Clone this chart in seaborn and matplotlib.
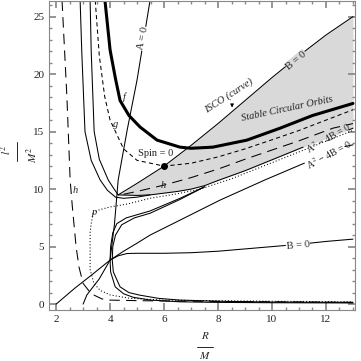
import numpy as np
import pandas as pd
import matplotlib
matplotlib.use("Agg")
import matplotlib.pyplot as plt
import seaborn as sns

sns.set_theme(style="white")
plt.rcParams['font.family'] = ['Liberation Serif', 'DejaVu Serif']
plt.rcParams['mathtext.fontset'] = 'stix'

# ---- data (R/M, l^2/M^2) ----
thick_R = [3.81, 4.0, 4.2, 4.37, 4.7, 5.11, 5.74, 6.59, 7.0, 7.81, 9.07, 10.3, 11.5, 13.0]
thick_L = [26.4, 22.1, 19.6, 17.7, 16.4, 15.4, 14.26, 13.65, 13.55, 13.65, 14.26, 15.3, 16.4, 17.45]

schw_R = [3.45, 3.6, 3.8, 4.0, 4.5, 5.0, 6.0, 7.0, 8.0, 9.0, 10.0, 11.0, 12.0, 13.0]
schw_L = [26.4, 21.6, 18.05, 16.0, 13.5, 12.5, 12.0, 12.25, 12.8, 13.5, 14.29, 15.1, 16.0, 16.9]

bup_R = [4.3, 5.0, 6.0, 7.0, 8.0, 9.0, 10.0, 11.0, 12.0, 13.0]
bup_L = [9.5, 10.5, 12.0, 13.8, 15.7, 17.7, 19.7, 21.6, 23.4, 25.0]

alow_R = [4.3, 5.0, 5.5, 6.0, 6.5, 7.0, 7.5, 8.0, 9.0, 10.0, 11.15, 12.85, 13.0]
alow_L = [9.5, 9.45, 9.5, 9.65, 9.8, 10.0, 10.3, 10.75, 11.6, 12.55, 13.65, 15.15, 15.3]

beta_R = [2.0, 2.7, 3.3, 4.0, 4.5, 5.0, 5.48, 6.59, 8.07, 9.74, 11.2, 12.7, 13.0]
beta_L = [0.0, 1.4, 2.5, 3.83, 4.6, 5.3, 6.0, 7.3, 9.04, 10.8, 12.26, 13.7, 13.85]

u1_R = [2.89, 2.95, 3.07, 3.3, 3.63, 3.9, 4.2, 4.5, 5.0, 5.48]
u1_L = [26.4, 22.0, 15.0, 12.5, 10.8, 9.9, 9.3, 9.2, 9.3, 9.5]
u2_R = [3.26, 3.3, 3.41, 3.6, 3.93, 4.15, 4.3]
u2_L = [26.4, 22.0, 15.0, 12.6, 10.8, 10.0, 9.5]

c1_R = [13.0, 10.0, 8.0, 6.59, 5.5, 4.85, 4.5, 4.19, 4.02, 4.0, 4.02, 4.1, 4.25, 4.6, 5.48, 6.59, 7.5]
c1_L = [0.1, 0.12, 0.15, 0.2, 0.35, 0.6, 0.9, 1.5, 2.8, 3.83, 5.0, 6.2, 7.0, 7.5, 8.1, 9.2, 10.2]
c2_R = [13.0, 10.0, 8.0, 6.59, 5.8, 5.1, 4.7, 4.37, 4.12, 4.08, 4.1, 4.2, 4.43, 4.9, 5.48, 6.59, 7.5]
c2_L = [0.15, 0.18, 0.25, 0.35, 0.5, 0.78, 1.0, 1.5, 2.8, 3.83, 5.0, 6.0, 6.9, 7.5, 7.9, 9.1, 10.2]

b0_R = [4.0, 4.3, 4.63, 5.0, 6.0, 7.0, 8.0, 9.0, 10.0, 11.0, 12.0, 13.0]
b0_L = [3.83, 4.2, 4.4, 4.42, 4.42, 4.47, 4.6, 4.8, 5.0, 5.2, 5.45, 5.65]

a0_R = [3.0, 3.14, 3.6, 4.0, 4.08, 4.16, 4.3, 4.63, 5.0, 5.48]
a0_L = [0.0, 0.8, 2.2, 3.83, 5.4, 6.9, 10.8, 15.1, 19.5, 26.4]

hl_R = [2.22, 2.4, 2.52, 2.6, 2.74, 2.85, 3.0, 3.3, 3.7, 4.0, 5.0, 7.0, 10.0, 13.0]
hl_L = [26.4, 18.0, 10.8, 8.5, 5.0, 3.2, 1.8, 0.9, 0.45, 0.35, 0.3, 0.25, 0.2, 0.15]
hr_R = [4.5, 5.0, 6.0, 7.0, 8.07, 9.0, 10.0, 11.0, 12.26, 13.0]
hr_L = [9.55, 9.8, 10.35, 11.0, 11.8, 12.6, 13.4, 14.2, 15.3, 15.7]

p_R = [3.37, 3.3, 3.26, 3.26, 3.4, 3.63, 4.0, 4.74, 6.0, 8.0, 10.0, 13.0]
p_L = [7.9, 7.0, 6.2, 3.0, 1.8, 1.2, 0.8, 0.5, 0.35, 0.3, 0.25, 0.2]
pu_R = [3.37, 3.6, 4.0, 4.63, 5.48, 6.5, 7.33, 8.5, 10.0, 11.5, 13.0]
pu_L = [7.9, 8.2, 8.45, 8.7, 9.2, 9.6, 10.0, 10.9, 12.3, 13.7, 15.1]

fig = plt.figure(figsize=(3.61, 3.61), dpi=100)
ax = fig.add_axes([0.136, 0.141, 0.847, 0.856])

def line(R, L, **kw):
    df = pd.DataFrame({"R": R, "L": L})
    sns.lineplot(data=df, x="R", y="L", sort=False, estimator=None, ax=ax, **kw)

# shaded stable-orbit region
ax.fill_between(bup_R, bup_L, np.interp(bup_R, alow_R, alow_L), color="#d9d9d9", lw=0, zorder=0)

k = "black"
thin = 0.75
line(thick_R, thick_L, color=k, lw=2.2)
line(schw_R, schw_L, color=k, lw=thin, linestyle=(0, (4, 3)))
line(bup_R, bup_L, color=k, lw=thin)
line(alow_R[:11], alow_L[:11], color=k, lw=thin)
line(alow_R[11:], alow_L[11:], color=k, lw=thin)
line(beta_R[:11], beta_L[:11], color=k, lw=thin)
line(beta_R[11:], beta_L[11:], color=k, lw=thin)
line(u1_R, u1_L, color=k, lw=thin)
line(u2_R, u2_L, color=k, lw=thin)
line(c1_R, c1_L, color=k, lw=thin)
line(c2_R, c2_L, color=k, lw=thin)
line(b0_R, b0_L, color=k, lw=thin)
line(a0_R, a0_L, color=k, lw=thin)
line(hl_R, hl_L, color=k, lw=thin, linestyle=(0, (10, 6)))
line(hr_R, hr_L, color=k, lw=thin, linestyle=(0, (10, 6)))
line(p_R, p_L, color=k, lw=thin, linestyle=(0, (1, 2)))
line(pu_R, pu_L, color=k, lw=thin, linestyle=(0, (1, 2)))

ax.plot([6.0], [12.0], "o", color=k, ms=4)

ax.set_xlim(1.74, 13.07)
ax.set_ylim(-0.52, 26.35)
ax.set_xlabel("")
ax.set_ylabel("")
ax.set_xticks([2, 4, 6, 8, 10, 12])
ax.set_yticks([0, 5, 10, 15, 20, 25])
ax.set_xticks(np.arange(2, 13.1, 0.5), minor=True)
ax.set_yticks(np.arange(0, 26.1, 1), minor=True)
ax.tick_params(which="both", direction="in", top=True, right=True, bottom=True, left=True,
               color="#888888", labelsize=8, labelcolor="#222222")
ax.tick_params(which="major", length=5)
ax.tick_params(which="minor", length=2.5)
for s in ax.spines.values():
    s.set_color("#888888")
    s.set_linewidth(0.8)

tk = dict(fontsize=7.5, color="#222222")
ax.text(5.7, 13.1, "Spin = 0", ha="center", va="center", **tk)
ax.text(4.52, 18.0, "f", ha="center", va="center", style="italic", **tk)
ax.text(4.19, 15.6, "g", ha="center", va="center", style="italic", **tk)
ax.text(2.7, 9.9, "h", ha="center", va="center", style="italic", **tk)
ax.text(5.98, 10.3, "h", ha="center", va="center", style="italic", **tk)
ax.text(3.4, 8.0, "p", ha="center", va="center", style="italic", **tk)
ax.text(8.4, 18.1, "ISCO (curve)", ha="center", va="center", style="italic", rotation=33, **tk)
ax.annotate("", xy=(8.52, 16.85), xytext=(8.52, 17.6),
            arrowprops=dict(arrowstyle="-|>", lw=0.6, color=k, mutation_scale=5))
ax.text(10.55, 17.0, "Stable Circular Orbits", ha="center", va="center", style="italic", rotation=12, **tk)
bb = dict(boxstyle="square,pad=0.05", fc="white", ec="none")
ax.text(10.9, 21.2, "B = 0", ha="center", va="center", rotation=40,
        bbox=dict(boxstyle="square,pad=0.05", fc="#d9d9d9", ec="none"), **tk)
ax.text(10.96, 5.1, "B = 0", ha="center", va="center", rotation=5, bbox=bb, **tk)
ax.text(12.1, 14.45, "A$^2$ − 4B = 0", ha="center", va="center", rotation=30, fontsize=7, color="#222222")
ax.text(12.1, 13.0, "A$^2$ − 4B = 0", ha="center", va="center", rotation=28, fontsize=7, color="#222222")
ax.text(5.2, 23.1, "A = 0", ha="center", va="center", rotation=78, bbox=bb, **tk)

fig.text(0.018, 0.585, "$l^2$", rotation=90, ha="center", va="center", fontsize=8)
fig.add_artist(plt.Line2D([0.047, 0.047], [0.555, 0.608], color=k, lw=0.6))
fig.text(0.09, 0.57, "$M^2$", rotation=90, ha="center", va="center", fontsize=8)
fig.text(0.568, 0.07, "$R$", ha="center", va="center", fontsize=8)
fig.add_artist(plt.Line2D([0.545, 0.59], [0.04, 0.04], color=k, lw=0.6))
fig.text(0.568, 0.015, "$M$", ha="center", va="center", fontsize=8)

fig.savefig("out.png", dpi=100)
